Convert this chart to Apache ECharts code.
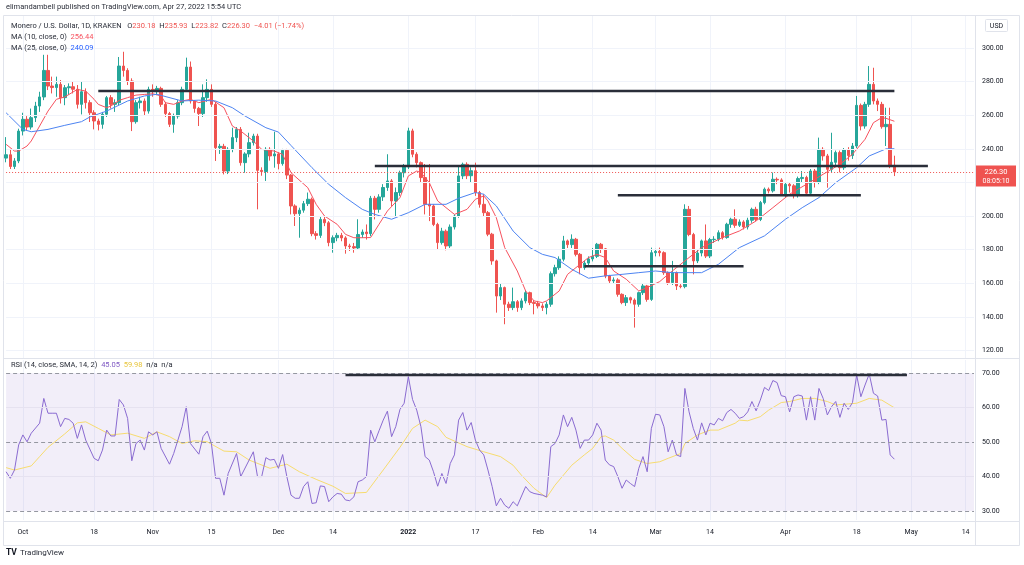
<!DOCTYPE html>
<html><head><meta charset="utf-8">
<script src="https://cdn.jsdelivr.net/npm/echarts@6/dist/echarts.min.js"></script>
<style>html,body{margin:0;padding:0;background:#fff}#c{width:1024px;height:565px}</style>
</head><body><div id="c"></div>
<script>
// ---------- DATA ----------
const startDate = '2021-09-27';   // first candle
const axisDays = 232;             // axis runs to 2022-05-16
// daily candles [open, close, low, high]
const candles = [
[234.5,236.5,232,247],[236.5,229.5,228,240],[229.5,232.8,228,234.5],[232.8,250.6,231.5,252],[250.6,257.6,248,261.5],
[257.6,253,251,259.5],[253,258.6,251.5,264],[258.6,265.5,256,268],[265.5,270.9,262,274],[270.9,286.7,269,296],
[286.7,277.4,275,296],[277.4,276.5,273,283],[276.5,278.4,271,283],[278.4,270.5,267,281],[270.5,276.4,266,278],
[276.4,277,272,279],[277,275.5,273,280],[275.5,266.5,264,278],[266.5,274,260.5,280],[274,267.5,264,276],
[267.5,261.5,256,269],[261.5,256.6,251.6,263],[256.6,254.6,251,258],[254.6,260.6,252,262],[260.6,270.5,259,271.5],
[270.5,266.5,264,272],[266.5,267.5,262,269.5],[267.5,289.3,266,294.7],[289.3,286.7,283,297.8],[286.7,280.4,278,288],
[280.4,256.2,250.6,282],[256.2,267.5,255,269],[267.5,268.5,264,271],[268.5,262.5,260,270],[262.5,275.4,261,277],
[275.4,274.4,271,278.4],[274.4,276,272,277.5],[276,266.5,265,277],[266.5,261,259,268],[261,254.6,253,262],
[254.6,259.5,249.6,261],[259.5,267.5,258,269],[267.5,275.4,266,277],[275.4,288.7,274,294.3],[288.7,268.5,267,292],
[268.5,264.1,261.5,269],[264.1,261,253.6,265],[261,270.5,259,278.4],[270.5,275.4,268,281.4],[275.4,266.5,265,278.4],
[266.5,240.7,232.8,268],[240.7,241.5,237,243],[241.5,226.8,224.8,243],[226.8,239.7,225,241],[239.7,246.7,238,252.6],
[246.7,251.6,244,253],[251.6,231.8,230,253],[231.8,237,225.8,238],[237,243.7,235,249.6],[243.7,247.6,242,249],
[247.6,227.2,204,249],[227.2,226.5,224,229],[226.5,239.7,220.9,241],[239.7,235.8,233,241],[235.8,237,228.8,250.2],
[237,231.2,227.8,238],[231.2,239.1,230,240],[239.1,224.4,222,240],[224.4,206,201,225],[206,201.4,194.1,207],
[201.4,203.5,187.1,205],[203.5,207.4,202,209],[207.4,210,206,214],[210,189.5,188,211],[189.5,188.5,186,191],
[188.5,198,187,199.5],[198,196,194,200],[196,184.2,182,197],[184.2,187.1,178.2,188.5],[187.1,188.5,185,190],
[188.5,187,185,190],[187,182.2,177.6,188],[182.2,181.8,179.2,183.5],[181.8,181,178.2,184],[181,189,180,198.1],
[189,190.5,187,192],[190.5,189.5,186,195],[189.5,210.6,188,212],[210.6,204,198,212],[204,211.4,202,213],
[211.4,217,209,219],[217,220.9,215,236.8],[220.9,209,206,222],[209,214,200,217],[214,225.8,212,227],
[225.8,229.2,223,231],[229.2,250.7,228,252.6],[250.7,236.8,235,252],[236.8,231.8,229,238],[231.8,222.9,220,232.5],
[222.9,207,201,231],[207,206,197,231],[206,195,194,207],[195,184.2,180.2,196],[184.2,191,183,193],
[191,182.2,179.6,192],[182.2,193.5,181,195],[193.5,200,192,201],[200,223.9,199,229.8],[223.9,230.8,222,231.8],
[230.8,224,222,232],[224,227,220,229],[227,214,212,231.8],[214,207,205,215],[207,202,200,213],
[202,189.2,188,203],[189.2,173.3,171,190],[173.3,152.4,142.5,174],[152.4,157.4,150,160],[157.4,147.5,135.6,158],
[147.5,145.5,143.5,149],[145.5,149,144,157.4],[149,145.5,143,150],[145.5,149.5,144,151],[149.5,154.4,148,156],
[154.4,148.5,147,155],[148.5,148,141.5,150],[148,146.5,145,149.5],[146.5,145.5,143.5,148],[145.5,147.5,141.5,149],
[147.5,165.7,146,167],[165.7,169.3,164,171],[169.3,174.3,168,176],[174.3,185.2,173,188.2],[185.2,183,181,186],
[183,186.2,181,189.1],[186.2,177.2,176,187],[177.2,169.3,165.3,178],[169.3,172,168,173.5],[172,174.5,170,176],
[174.5,176,173,181],[176,183.2,175,184],[183.2,180.5,178,184],[180.5,164.3,163,181],[164.3,161.4,160,165],
[161.4,162,160,163.5],[162,153.4,152,163],[153.4,148.5,147.5,154],[148.5,151.4,146.5,153],[151.4,150,148,152],
[150,147.5,133.6,151],[147.5,154.4,146,155],[154.4,158.4,153,160],[158.4,150.4,149,159],[150.4,178.2,149.5,181.2],
[178.2,179,176,180.5],[179,178.2,176,181.2],[178.2,166.3,165,179],[166.3,160.4,159,167],[160.4,166.3,159,173.3],
[166.3,158.4,156,167],[158.4,158,157,159.5],[158,204,157,207],[204,189,188,206],[189,173.3,165.3,190],
[173.3,178,172,180],[178,185.2,176,186],[185.2,176.2,175,195],[176.2,186,175,187],[186,186.2,184,188],
[186.2,190.1,185,191.5],[190.1,187.2,186,191],[187.2,195.1,186.5,196],[195.1,198.1,193,199],[198.1,194.5,193,204],
[194.5,196.5,193.5,198],[196.5,193.5,192,197.5],[193.5,197.5,192,199],[197.5,204,196,205],[204,198,197,205.5],
[198,208,197,209],[208,216,207,217],[216,215,213.5,217],[215,221.9,214,225.9],[221.9,221.5,219,223],
[221.5,213,212,222.5],[213,218.9,211,220],[218.9,218,214,220],[218,212.4,210.5,219],[212.4,222.3,211,223.5],
[222.3,223,220,226.8],[223,213.6,212,224],[213.6,226.8,213,228],[226.8,220,217,228],[220,239.7,219,246.7],
[239.7,235.8,233,241],[235.8,227.8,216.9,237],[227.8,232,226,249.6],[232,237.8,230,239],[237.8,228.8,226,239],
[228.8,239.3,227.5,240.5],[239.3,236,233,241],[236,241.7,234,243.5],[241.7,265.9,240.5,271.5],[265.9,253.6,251,267],
[253.6,266.5,252,268],[266.5,278.4,265,289.3],[278.4,268.5,266.5,288.3],[268.5,266.5,262.5,270],[266.5,253.2,252,268],
[253.2,254.6,241.7,264.5],[254.6,230.18,228.5,264.5],[230.18,226.30,223.82,235.93]
];
// moving averages: [day offset from startDate, value]
const ma10Points = [[0,242.7],[2,238.7],[3,238.7],[5,241.7],[6,244.7],[8,253.6],[10,262.5],[12,269.5],[14,270.9],[17,275.4],[19,274.4],[21,269.5],[22,266.5],[24,264.5],[25,265.5],[27,268.9],[29,270.5],[31,272],[33,272.4],[35,272.8],[37,271.5],[38,267.5],[40,266.5],[42,268.5],[44,269.5],[46,267.5],[49,269.5],[52,264.5],[54,253.6],[56,250.6],[59,244.7],[61,239.7],[64,238.7],[66,236.7],[68,225.8],[72,216.9],[74,207],[76,200],[79,195.1],[81,189.1],[83,187.1],[85,187.1],[87,187.2],[89,195.1],[91,203],[94,211],[96,223.9],[98,226.8],[99,225.9],[101,219.9],[103,209],[106,203],[107,201],[110,204],[112,210],[114,212],[115,209],[117,199],[119,181.2],[122,167.3],[124,155.4],[126,149.5],[128,148.5],[129,149.5],[132,155.4],[134,165.3],[137,171.3],[139,175.3],[141,177.2],[143,175.3],[145,167.3],[148,162.4],[151,155.4],[153,157.4],[156,161],[158,165.3],[160,169.3],[163,175.3],[166,181.2],[171,187.2],[175,191.1],[179,197.1],[183,205],[187,213],[191,218.9],[195,224.9],[199,230.8],[202,236.8],[205,245.7],[207,255.6],[209,258.6],[210,258.2],[212,256.44]];
const ma25Points = [[0,261.5],[4,251.6],[6,250.2],[10,251.6],[14,254],[18,256.2],[20,259],[24,262.5],[29,268.5],[33,271.5],[36,272.5],[42,268.5],[46,269],[50,268.5],[54,264.5],[57,259.6],[62,252.6],[65,250],[68,242],[73,228.8],[77,218.9],[81,211],[85,204],[88,201],[92,198.1],[96,202],[100,207],[105,207],[108,210.6],[112,214],[114,213],[117,206],[121,191.1],[125,181.2],[128,177.2],[131,175.3],[135,168.3],[139,163],[143,164.4],[147,165.3],[151,166.3],[155,167.3],[159,166.3],[163,166.3],[166,166.3],[170,171.3],[175,181.2],[181,188.2],[186,198.1],[190,205],[194,211],[198,219.9],[203,228.8],[206,235.8],[210,240],[212,240.09]];
const rsiPoints = [[0,41.4],[1,39.5],[2,41.9],[3,49.2],[4,52.1],[5,50.1],[6,52.6],[8,55.5],[9,62.7],[10,58.4],[11,58.4],[12,58.4],[13,54.5],[14,56.9],[15,56.6],[16,55.5],[17,51.1],[18,55],[19,50.6],[21,45.3],[22,44.6],[23,47.7],[24,53.5],[25,51.8],[26,51.8],[27,62.4],[28,60.8],[29,56.9],[30,44.6],[31,49.6],[32,50.6],[33,47.7],[34,53],[35,52.1],[36,53],[37,48.2],[39,43.6],[40,46.7],[42,54.5],[43,60.3],[44,49.6],[46,46.5],[47,51.6],[48,53.2],[49,49.6],[50,39.5],[51,39.5],[52,34.6],[53,40.9],[55,46.7],[56,40],[59,47.2],[60,40],[61,40],[62,45.5],[63,44.8],[64,45],[65,42.4],[66,46.4],[67,40],[68,34.6],[69,33.7],[70,33.7],[71,37.1],[72,38.5],[73,32.2],[74,32.4],[75,37.3],[76,37.1],[77,32.7],[78,34.1],[79,35.1],[80,34.9],[81,33.2],[82,33],[83,34.1],[84,38.5],[85,39],[86,40],[87,53.5],[88,50.1],[89,53.3],[90,56.4],[91,59],[92,51.6],[93,54.5],[94,59.5],[95,61.3],[96,69],[97,62.4],[98,59.3],[99,54.5],[100,45.8],[101,44.8],[102,41.4],[103,37.2],[104,40.9],[105,38],[106,43.8],[107,46.3],[108,56.4],[109,58.6],[110,53.5],[111,55.7],[112,50.6],[113,47.7],[114,46.3],[115,41.9],[116,37.1],[117,31.5],[118,33.7],[119,31.7],[120,30.8],[121,32.7],[122,31.5],[124,37.1],[125,35.6],[126,35.1],[128,34.6],[129,34.1],[130,48.7],[131,49.6],[132,52.1],[133,57.9],[134,54.5],[135,57.2],[136,53.5],[137,48.2],[138,50.6],[139,50.6],[140,52.1],[141,55.5],[142,53.5],[143,44.8],[144,43.4],[145,42.9],[146,40],[147,36.6],[148,39],[149,38],[150,37.1],[151,42.4],[152,45.8],[153,41.4],[154,54],[155,58.1],[156,57.9],[157,54.5],[158,47.2],[159,50.6],[160,46.3],[161,45.8],[162,65.6],[163,58.8],[164,54],[165,50.6],[166,55.6],[167,52.1],[168,55.5],[169,55],[170,56.9],[171,56.2],[172,58.6],[173,59.5],[174,58.4],[175,56.9],[176,57.4],[177,58.8],[178,61.8],[179,59.1],[180,62.2],[181,65.9],[182,65],[183,67.9],[184,67.3],[185,63.5],[186,63.2],[187,58.8],[188,63.2],[189,63.7],[190,63.4],[191,56.4],[192,63.2],[193,56.4],[194,65.6],[195,62.7],[196,57.9],[197,60.3],[198,61.8],[199,57.2],[200,61.3],[201,59.5],[202,61.5],[203,69.5],[204,63.2],[205,66.6],[206,69.8],[207,64.2],[208,63.4],[209,56.4],[210,56.6],[211,46.3],[212,45.05]];
const rsiSmaPoints = [[0,42.6],[2,41.9],[6,43.1],[8,45.8],[10,48.5],[14,52.4],[17,55.6],[19,55.9],[22,54],[25,52.1],[29,52.6],[33,51.1],[36,53],[39,51.6],[42,49.6],[45,50.4],[48,50.1],[52,47.4],[55,47.2],[58,44.8],[63,42.4],[67,43.6],[70,41.4],[74,39.2],[78,37.2],[81,35.1],[86,35.4],[90,41.9],[94,48.5],[97,54],[100,56.4],[103,54.5],[105,51.4],[110,48.7],[114,47.2],[118,45.8],[121,43.3],[123,40.4],[126,36.6],[129,33.9],[131,37.5],[135,43.3],[138,46.3],[140,48.2],[142,51.6],[143,51.8],[145,50.6],[147,48.2],[150,45],[153,43.8],[156,44.3],[158,45.3],[161,46.7],[162,49.6],[165,52.1],[168,53.5],[170,53.5],[174,55.5],[175,56.4],[177,56.2],[180,57.4],[182,59.3],[185,61.5],[187,61.8],[190,62.7],[193,62.7],[196,61.8],[198,60.8],[201,61.1],[203,61.3],[206,62.7],[209,62.2],[212,59.98]];
// drawn support / resistance levels
const priceLevels = [
  {from:'2021-10-19', to:'2022-04-27', value:274.5},
  {from:'2021-12-24', to:'2022-05-05', value:229.8},
  {from:'2022-02-20', to:'2022-04-19', value:212.4},
  {from:'2022-02-12', to:'2022-03-22', value:170.1}
];
const rsiLevels = [{from:'2021-12-17', to:'2022-04-30', value:69.5}];
// axis ticks
const priceTicks = [120,140,160,180,200,220,240,260,280,300];
const rsiTicks = [30,40,50,60,70];
const rsiDashed = [30,50,70];
const tickDates = ['2021-10-01','2021-10-18','2021-11-01','2021-11-15','2021-12-01','2021-12-14','2022-01-01','2022-01-17','2022-02-01','2022-02-14','2022-03-01','2022-03-14','2022-04-01','2022-04-18','2022-05-01','2022-05-14'];
const tickLabels = ['Oct','18','Nov','15','Dec','14','2022','17','Feb','14','Mar','14','Apr','18','May','14'];

// ---------- BUILD ----------
const categories = [];
const d0 = new Date(startDate + 'T00:00:00Z').getTime();
for (let i = 0; i < axisDays; i++) categories.push(new Date(d0 + i * 86400000).toISOString().slice(0, 10));
const labelMap = {};
tickDates.forEach((d, i) => labelMap[d] = tickLabels[i]);
const isTick = (idx, val) => labelMap[val] !== undefined;
const toCat = pts => pts.map(p => [categories[p[0]], p[1]]);
const last = candles[candles.length - 1];
const lastClose = last[1];

const FONT = 'Roboto, "Liberation Sans", sans-serif';
const TXT = '#131722';
const GRIDC = '#f0f3fa';

const chart = echarts.init(document.getElementById('c'), null, {renderer: 'canvas'});

const xAxes = [0, 1].map(gi => ({
  type: 'category', gridIndex: gi, data: categories, boundaryGap: false,
  axisLine: {show: false}, axisTick: {show: false},
  axisLabel: gi === 1 ? {
    show: true, interval: isTick, margin: 9, color: TXT, fontSize: 7, fontFamily: FONT,
    formatter: v => labelMap[v] === '2022' ? '{b|2022}' : (labelMap[v] || ''),
    rich: {b: {fontWeight: 'bold', fontSize: 7, color: TXT, fontFamily: FONT}}
  } : {show: false},
  splitLine: {show: true, interval: isTick, lineStyle: {color: GRIDC, width: 1}}
}));

const levelSeries = (lv, xi, yi) => lv.map(l => ({
  type: 'line', xAxisIndex: xi, yAxisIndex: yi, data: [[l.from, l.value], [l.to, l.value]],
  showSymbol: false, silent: true, z: 6, lineStyle: {color: '#2a2e39', width: 2.5}
}));

const option = {
  animation: false,
  backgroundColor: '#ffffff',
  grid: [
    {left: 6.1, right: 50, top: 16, height: 342},
    {left: 6.1, right: 50, top: 360, height: 160}
  ],
  xAxis: xAxes,
  yAxis: [
    {type: 'value', gridIndex: 0, position: 'right', min: 115.5, max: 319.1, scale: true,
      axisLine: {show: false}, axisTick: {show: false}, splitLine: {show: false},
      axisLabel: {customValues: priceTicks, formatter: v => v.toFixed(2), color: TXT, fontSize: 7, fontFamily: FONT, margin: 8}},
    {type: 'value', gridIndex: 1, position: 'right', min: 27.39, max: 73.86,
      axisLine: {show: false}, axisTick: {show: false}, splitLine: {show: false},
      axisLabel: {customValues: rsiTicks, formatter: v => v.toFixed(2), color: TXT, fontSize: 7, fontFamily: FONT, margin: 8}}
  ],
  series: [
    {type: 'line', xAxisIndex: 0, yAxisIndex: 0, data: [], silent: true, z: 0,
      markLine: {silent: true, symbol: 'none', animation: false, label: {show: false},
        lineStyle: {color: GRIDC, width: 1, type: 'solid'}, data: priceTicks.map(v => ({yAxis: v}))}},
    {type: 'candlestick', xAxisIndex: 0, yAxisIndex: 0, data: candles, barWidth: 3, clip: false, z: 3,
      itemStyle: {color: '#26a69a', color0: '#ef5350', borderColor: '#26a69a', borderColor0: '#ef5350', borderWidth: 1},
      markLine: {silent: true, symbol: 'none', animation: false, label: {show: false},
        lineStyle: {color: '#ef5350', type: [1, 2], width: 1}, data: [{yAxis: lastClose}]}},
    {type: 'line', xAxisIndex: 0, yAxisIndex: 0, data: toCat(ma10Points), showSymbol: false, silent: true, z: 4,
      lineStyle: {color: '#f7525f', width: 1}},
    {type: 'line', xAxisIndex: 0, yAxisIndex: 0, data: toCat(ma25Points), showSymbol: false, silent: true, z: 4,
      lineStyle: {color: '#4d84f2', width: 1}},
    ...levelSeries(priceLevels, 0, 0),
    {type: 'line', xAxisIndex: 1, yAxisIndex: 1, data: [], silent: true, z: 0,
      markArea: {silent: true, itemStyle: {color: 'rgba(126,87,194,0.1)'}, data: [[{yAxis: 30}, {yAxis: 70}]]},
      markLine: {silent: true, symbol: 'none', animation: false, label: {show: false},
        data: [
          ...rsiTicks.filter(v => rsiDashed.indexOf(v) < 0).map(v => ({yAxis: v, lineStyle: {color: 'rgba(230,226,240,1)', width: 1, type: 'solid'}})),
          ...rsiDashed.map(v => ({yAxis: v, lineStyle: {color: '#9598a1', width: 1, type: [4, 3]}}))
        ]}},
    {type: 'line', xAxisIndex: 1, yAxisIndex: 1, data: toCat(rsiSmaPoints), showSymbol: false, silent: true, z: 3,
      lineStyle: {color: '#f7dc6f', width: 1}},
    {type: 'line', xAxisIndex: 1, yAxisIndex: 1, data: toCat(rsiPoints), showSymbol: false, silent: true, z: 4,
      lineStyle: {color: '#8a6bd1', width: 1}},
    ...levelSeries(rsiLevels, 1, 1)
  ]
};
chart.setOption(option);

// ---------- annotations ----------
const py = chart.convertToPixel({yAxisIndex: 0}, lastClose);
const t = (x, y, text, rich, extra) => Object.assign({type: 'text', x, y, silent: true, z: 100,
  style: Object.assign({text, fontSize: 7.5, fontFamily: FONT, fill: TXT, verticalAlign: 'middle', rich}, extra || {})});
const richLegend = {
  t: {fill: '#2a2e39', fontSize: 7.5, fontFamily: FONT},
  v: {fill: '#ef5350', fontSize: 7.5, fontFamily: FONT},
  r: {fill: '#f7525f', fontSize: 7.5, fontFamily: FONT},
  b: {fill: '#2962ff', fontSize: 7.5, fontFamily: FONT},
  p: {fill: '#7e57c2', fontSize: 7.5, fontFamily: FONT},
  y: {fill: '#e8c53a', fontSize: 7.5, fontFamily: FONT}
};
chart.setOption({graphic: [
  {type: 'rect', silent: true, shape: {x: 3.5, y: 15.5, width: 1016, height: 530}, style: {fill: 'none', stroke: '#e0e3eb', lineWidth: 1}},
  {type: 'line', silent: true, shape: {x1: 975.5, y1: 15.5, x2: 975.5, y2: 545.5}, style: {stroke: '#e0e3eb', lineWidth: 1}},
  {type: 'line', silent: true, shape: {x1: 3.5, y1: 358.5, x2: 1019.5, y2: 358.5}, style: {stroke: '#e0e3eb', lineWidth: 1}},
  {type: 'line', silent: true, shape: {x1: 3.5, y1: 521.5, x2: 1019.5, y2: 521.5}, style: {stroke: '#e0e3eb', lineWidth: 1}},
  t(6, 7, 'elimandambell published on TradingView.com, Apr 27, 2022 15:54 UTC', null, {fill: '#2a2e39', fontSize: 7.5}),
  t(11, 26, '{t|Monero / U.S. Dollar, 1D, KRAKEN}   {t|O}{v|230.18}  {t|H}{v|235.93}  {t|L}{v|223.82}  {t|C}{v|226.30}  {v|\u22124.01 (\u22121.74%)}', richLegend),
  t(11, 37, '{t|MA (10, close, 0)}  {r|256.44}', richLegend),
  t(11, 48, '{t|MA (25, close, 0)}  {b|240.09}', richLegend),
  t(11, 365, '{t|RSI (14, close, SMA, 14, 2)}  {p|45.05}  {y|59.98}  {t|n/a}  {t|n/a}', richLegend),
  {type: 'rect', silent: true, z: 100, shape: {x: 985.5, y: 19.5, width: 22, height: 12, r: 1}, style: {fill: '#fff', stroke: '#e0e3eb', lineWidth: 1}},
  t(996.5, 25.8, 'USD', null, {align: 'center', fontSize: 7}),
  {type: 'rect', silent: true, z: 100, shape: {x: 976, y: py - 6.5, width: 40, height: 21}, style: {fill: '#ef5350'}},
  t(996, py, lastClose.toFixed(2), null, {align: 'center', fill: '#fff', fontSize: 7.5}),
  t(996, py + 9, '08:05:10', null, {align: 'center', fill: '#fff', fontSize: 7}),
  t(6, 553, 'TV', null, {fontWeight: 'bold', fontSize: 8.5, fill: '#131722'}),
  t(20, 553, 'TradingView', null, {fontSize: 8, fill: '#2a2e39'})
]});
</script>
</body></html>
